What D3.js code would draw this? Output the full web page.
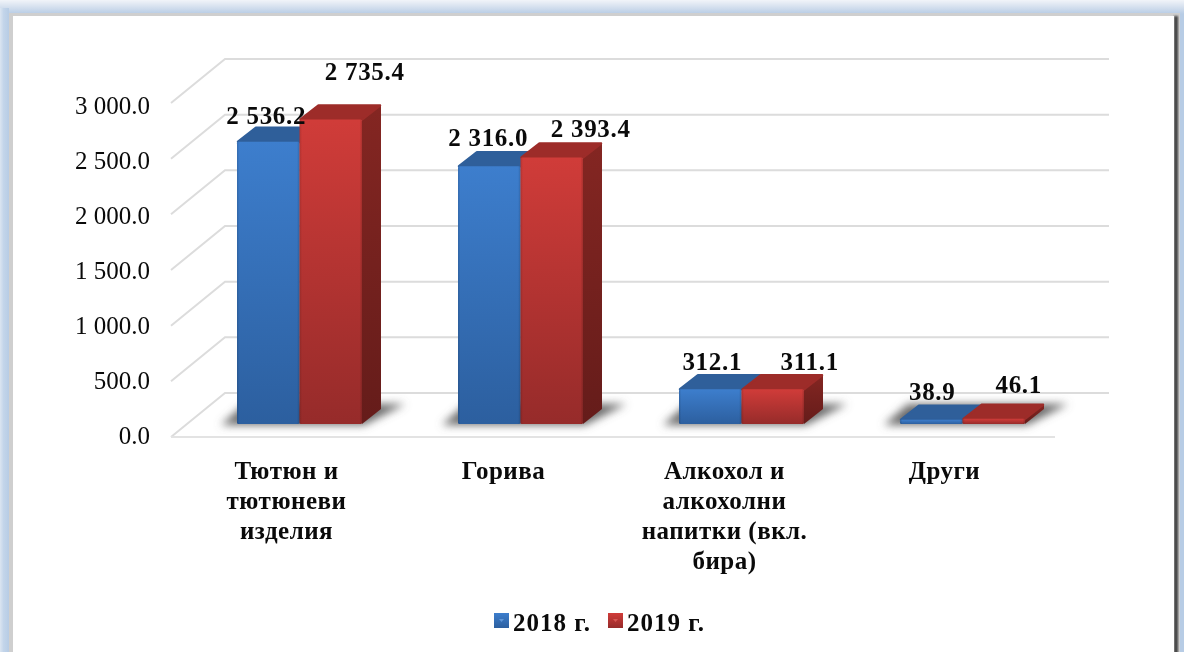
<!DOCTYPE html>
<html><head><meta charset="utf-8">
<script src="https://cdn.jsdelivr.net/npm/d3@7/dist/d3.min.js"></script>
<style>
html,body{margin:0;padding:0;background:#fff;overflow:hidden}
svg{display:block;filter:blur(0.5px)}
text{font-family:"Liberation Serif",serif;fill:#0a0a0a}
</style></head><body>
<svg id="c" width="1184" height="652"></svg>
<script>
const categories = [["Тютюн и","тютюневи","изделия"],["Горива"],["Алкохол и","алкохолни","напитки (вкл.","бира)"],["Други"]];
const seriesNames = ["2018 г.","2019 г."];
const values2018 = [2536.2,2316.0,312.1,38.9];
const values2019 = [2735.4,2393.4,311.1,46.1];
const yTicks = [0,500,1000,1500,2000,2500,3000];

const W=1184,H=652;
const svg=d3.select("#c");
const defs=svg.append("defs");
function grad(id,stops,x2,y2){
  const g=defs.append("linearGradient").attr("id",id).attr("x1",0).attr("y1",0).attr("x2",x2).attr("y2",y2);
  stops.forEach(s=>{const st=g.append("stop").attr("offset",s[0]).attr("stop-color",s[1]); if(s[2]!==undefined) st.attr("stop-opacity",s[2]);});
}
grad("frameTop",[[0,"#f1f4f9"],[0.5,"#d5e0ee"],[1,"#b7cce5"]],0,1);
grad("frameLeft",[[0,"#dbe5f1"],[0.4,"#c3d5ea"],[1,"#b7cce5"]],1,0);
grad("f0",[[0,"#3d7ecd"],[1,"#2c5f9f"]],0,1);
grad("f1",[[0,"#d03c39"],[1,"#962b2a"]],0,1);
grad("s0",[[0,"#2a5288"],[1,"#1f3f6c"]],0,1);
grad("s1",[[0,"#842622"],[1,"#651c1a"]],0,1);
grad("bevel",[[0,"#000",0.14],[0.04,"#000",0],[0.96,"#000",0],[1,"#000",0.16]],1,0);
defs.append("filter").attr("id","shadow").attr("x","-20%").attr("y","-60%").attr("width","140%").attr("height","220%")
  .append("feGaussianBlur").attr("stdDeviation",4);
defs.append("filter").attr("id","inner").attr("x","-5%").attr("y","-5%").attr("width","110%").attr("height","110%")
  .append("feGaussianBlur").attr("stdDeviation",0.8);

// picture frame
svg.append("rect").attr("width",W).attr("height",H).attr("fill","#b7cce5");
svg.append("rect").attr("width",W).attr("height",14).attr("fill","url(#frameTop)");
svg.append("rect").attr("y",8).attr("width",9).attr("height",H-8).attr("fill","url(#frameLeft)");
svg.append("rect").attr("x",9).attr("y",13).attr("width",1171).attr("height",H).attr("fill","#cfcfcf");
svg.append("rect").attr("x",1174).attr("y",16).attr("width",4).attr("height",H).attr("fill","#3f3f3f").attr("filter","url(#inner)");
svg.append("rect").attr("x",13).attr("y",16).attr("width",1161).attr("height",H).attr("fill","#fff");

// scales
const x=d3.scaleBand().domain(d3.range(categories.length)).range([171,1055]);
const y=d3.scaleLinear().domain([0,3000]).range([437,103]);
const yLabel=d3.scaleLinear().domain([0,3000]).range([435,105]);
const inner=d3.scaleBand().domain([0,1]).range([66,66+125]);
const wallDx=54,wallDy=-44;
const baseLift=13, barDx=19, barDy=-15;
const h=v=>y(0)-y(v);

// gridlines
const grid=svg.append("g").attr("fill","none").attr("stroke","#dcdcdc").attr("stroke-width",2);
yTicks.forEach(t=>{
  grid.append("path").attr("d",d3.line()([[x.range()[0],y(t)],[x.range()[0]+wallDx,y(t)+wallDy],[x.range()[1]+wallDx,y(t)+wallDy]]));
});
grid.append("path").attr("d",d3.line()([[x.range()[0],y(0)],[x.range()[1],y(0)]])).attr("stroke","#e3e3e3");

// y labels
const fmt=d3.formatLocale({decimal:".",thousands:" ",grouping:[3],currency:["",""]}).format(",.1f");
svg.append("g").selectAll("text").data(yTicks).join("text")
  .attr("x",150).attr("y",d=>yLabel(d)).attr("dy","0.34em").attr("text-anchor","end")
  .attr("font-size",25).text(fmt);

const series=[values2018,values2019];
const base=y(0)-baseLift;

// floor shadows
categories.forEach((c,i)=>{
  const l=x(i)+inner(0), r=x(i)+inner(1)+inner.bandwidth();
  svg.append("path").attr("fill","#6a6a6a").attr("filter","url(#shadow)")
    .attr("d",d3.line()([[l-16,base+1],[r+2,base+1],[r+barDx+24,base+barDy-5],[l+8,base+barDy-5]])+"Z");
});

// bars
const bw=inner.bandwidth();
const topCol=["#2f5f9a","#9d2c29"];
categories.forEach((c,i)=>{
  series.forEach((vals,s)=>{
    const v=vals[i], l=x(i)+inner(s), r=l+bw, t=base-h(v);
    const g=svg.append("g").attr("stroke-linejoin","round");
    g.append("path").attr("fill",`url(#s${s})`)
      .attr("d",d3.line()([[r,t],[r+barDx,t+barDy],[r+barDx,base+barDy],[r,base]])+"Z");
    g.append("path").attr("fill",topCol[s]).attr("stroke",topCol[s]).attr("stroke-width",2.5)
      .attr("d",d3.line()([[l+1,t],[l+barDx,t+barDy+1],[r+barDx-1,t+barDy+1],[r,t]])+"Z");
    g.append("rect").attr("x",l).attr("y",t).attr("width",bw).attr("height",h(v)).attr("rx",1.5).attr("fill",`url(#f${s})`);
    g.append("rect").attr("x",l).attr("y",t).attr("width",bw).attr("height",h(v)).attr("rx",1.5).attr("fill","url(#bevel)");
  });
});

// data labels: hand-placed in the source, offset from each bar's front top
const labelOffsets=[[[-2,-26],[34,-48]],[[-1,-29],[39,-29]],[[2,-28],[37,-28]],[[1,-28],[25,-34]]];
categories.forEach((c,i)=>{
  series.forEach((vals,s)=>{
    const v=vals[i], cx=x(i)+inner(s)+bw/2, t=base-h(v), o=labelOffsets[i][s];
    svg.append("text").attr("x",cx+o[0]).attr("y",t+o[1]).attr("dy","0.34em").attr("text-anchor","middle")
      .attr("font-size",25).attr("letter-spacing",0.7).attr("font-weight","bold").text(fmt(v));
  });
});

// category labels
const catDx=[5,1,1,0];
categories.forEach((c,i)=>{
  const cx=x(i)+x.bandwidth()/2+catDx[i];
  const t=svg.append("text").attr("text-anchor","middle").attr("font-size",25).attr("letter-spacing",0.5).attr("font-weight","bold");
  c.forEach((line,k)=>t.append("tspan").attr("x",cx).attr("y",479+k*30).text(line));
});

// legend
const legendX=[494,608];
seriesNames.forEach((n,s)=>{
  svg.append("rect").attr("x",legendX[s]).attr("y",613).attr("width",15).attr("height",15).attr("fill",`url(#f${s})`);
  svg.append("path").attr("fill",s?"#e0605c":"#6aa0e0").attr("opacity",.8)
    .attr("d",d3.line()([[legendX[s]+5,619],[legendX[s]+10,619],[legendX[s]+7.5,622]])+"Z");
  svg.append("text").attr("x",legendX[s]+19).attr("y",631).attr("font-size",25).attr("letter-spacing",1).attr("font-weight","bold").text(n);
});
</script></body></html>
